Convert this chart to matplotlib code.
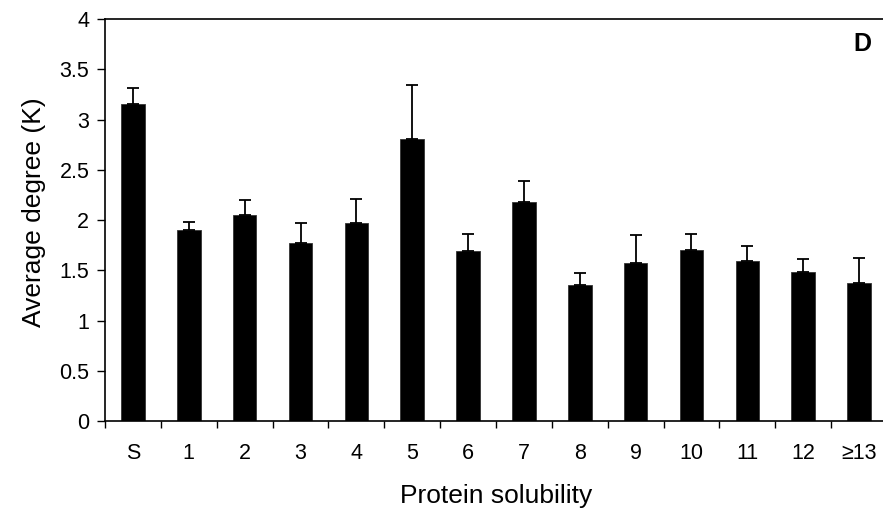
import matplotlib
matplotlib.use("Agg")
import matplotlib.pyplot as plt
import numpy as np

categories = ["S", "1", "2", "3", "4", "5", "6", "7", "8", "9", "10", "11", "12", "≥13"]
values = [3.15, 1.90, 2.05, 1.77, 1.97, 2.81, 1.69, 2.18, 1.36, 1.57, 1.70, 1.59, 1.48, 1.38]
errors = [0.16, 0.08, 0.15, 0.20, 0.24, 0.53, 0.17, 0.21, 0.11, 0.28, 0.16, 0.15, 0.13, 0.24]
y_ticks = [0, 0.5, 1, 1.5, 2, 2.5, 3, 3.5, 4]
y_tick_labels = ["0", "0.5", "1", "1.5", "2", "2.5", "3", "3.5", "4"]

plt.rcParams['font.family'] = ['Liberation Sans', 'DejaVu Sans']

W, H = 883, 513
fig = plt.figure(figsize=(W / 100, H / 100), dpi=100)
ax = fig.add_axes([105 / W, 1 - 421.3 / H, 782 / W, (421.3 - 19) / H])

x = np.arange(len(categories))
ax.bar(x, values, width=0.42, color="black", edgecolor="#333333", linewidth=0.6, zorder=2)
ax.errorbar(x, values, yerr=[np.zeros(len(errors)), errors], fmt="none",
            ecolor="black", elinewidth=1.3, capsize=4, capthick=1.3, zorder=3)

ax.set_xlim(-0.5, len(categories) - 0.5)
ax.set_ylim(0, 4)
ax.set_yticks(y_ticks)
ax.set_yticklabels(y_tick_labels, fontsize=15.5)
ax.set_xticks(x)
ax.set_xticklabels(categories, fontsize=15.5)
ax.set_xticks(np.arange(len(categories) + 1) - 0.5, minor=True)
ax.tick_params(axis="x", which="major", length=0, pad=15.8)
ax.tick_params(axis="x", which="minor", length=5, direction="out", width=1)
ax.tick_params(axis="y", length=5.8, direction="out", width=1, pad=5.5)

for s in ["left", "bottom", "top", "right"]:
    ax.spines[s].set_linewidth(1.2)
    ax.spines[s].set_color("black")

fig.text(496 / W, (H - 503) / H, "Protein solubility", fontsize=19,
         ha="center", va="baseline")
fig.text(34 / W, 1 - 212.5 / H, "Average degree (K)", fontsize=19,
         rotation=90, ha="center", va="center")
fig.text(862.5 / W, 1 - 44 / H, "D", fontsize=18,
         fontweight="bold", ha="center", va="center")

fig.savefig("out.png", dpi=100)
